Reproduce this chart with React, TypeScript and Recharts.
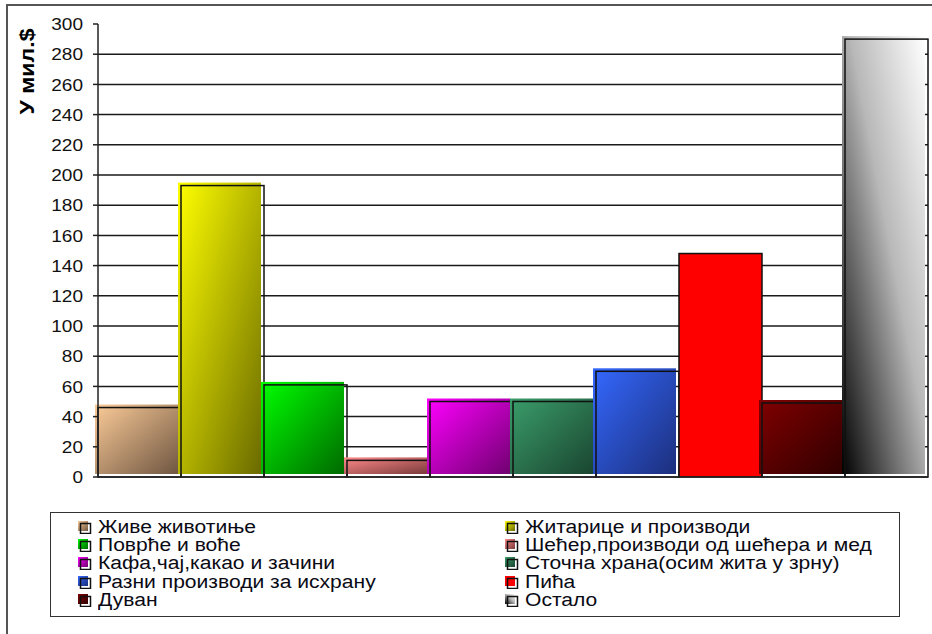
import { BarChart, Bar, XAxis, YAxis, CartesianGrid } from 'recharts';

const categories = [
  'Живе животиње',
  'Житарице и производи',
  'Поврће и воће',
  'Шећер,производи од шећера и мед',
  'Кафа,чај,какао и зачини',
  'Сточна храна(осим жита у зрну)',
  'Разни производи за исхрану',
  'Пића',
  'Дуван',
  'Остало',
];
const values = [46, 193, 61, 11, 50, 50, 70, 148, 49, 290];
const yTicks = [0, 20, 40, 60, 80, 100, 120, 140, 160, 180, 200, 220, 240, 260, 280, 300];
const gridValues = yTicks.filter((v) => v > 0 && v < 300);

// light -> dark for each bar
const gradients: Array<[string, string]> = [
  ['#fbcb98', '#6f5641'],
  ['#ffff00', '#6a6a00'],
  ['#00ff00', '#006a00'],
  ['#ff8a8a', '#7a3a3a'],
  ['#ff00ff', '#700070'],
  ['#3a9d6a', '#1a4530'],
  ['#3468ff', '#1c2f7c'],
  ['#ff0000', '#ff0000'],
  ['#800000', '#300000'],
  ['#ffffff', '#000000'],
];

const data = categories.map((name, i) => ({ name, value: values[i] }));

const font = '"Liberation Sans", Arial, sans-serif';

const BarShape = (props: any) => {
  const { x, y, width, height, index } = props;
  const off = index === 7 ? 0 : 3;
  return (
    <g>
      <rect x={x - off} y={y - off} width={width} height={height} fill={`url(#g${index})`} />
      <rect x={x} y={y} width={width} height={height} fill="none" stroke="#111" strokeWidth={1.5} />
    </g>
  );
};

const Tick = (props: any) => {
  const { x, y, payload } = props;
  return (
    <text
      transform={`translate(${x},${y}) scale(1.12,1)`}
      textAnchor="end"
      dy="0.36em"
      fontFamily={font}
      fontSize={17}
      fill="#111"
    >
      {payload.value}
    </text>
  );
};

const AxisLabel = (props: any) => {
  const { viewBox } = props;
  const cx = viewBox.x + 27;
  const cy = viewBox.y + 47.5;
  return (
    <text
      x={cx}
      y={cy}
      transform={`rotate(-90 ${cx} ${cy})`}
      textAnchor="middle"
      dominantBaseline="central"
      fontFamily={font}
      fontWeight="bold"
      fontSize={20}
      textLength={86}
      lengthAdjust="spacingAndGlyphs"
      fill="#000"
    >
      У мил.$
    </text>
  );
};

const legendOrder = [0, 1, 2, 3, 4, 5, 6, 7, 8, 9];

export default function App() {
  return (
    <div style={{ position: 'absolute', left: 0, top: 0, width: 932, height: 634, overflow: 'hidden', background: '#fff' }}>
      <div
        style={{
          position: 'absolute',
          left: 6,
          top: 4,
          width: 960,
          height: 660,
          border: '2px solid #555',
        }}
      />
      <div style={{ position: 'absolute', left: 0, top: 0 }}>
        <BarChart
          width={932}
          height={634}
          data={data}
          margin={{ top: 24, right: 4, bottom: 156, left: 0 }}
          barCategoryGap={0}
          barGap={0}
        >
          <defs>
            {gradients.map((g, i) =>
              i === 9 ? (
                <linearGradient key={i} id={`g${i}`} x1="0" y1="1" x2="1" y2="0">
                  <stop offset="0%" stopColor="#000" />
                  <stop offset="55%" stopColor="#b8b8b8" />
                  <stop offset="100%" stopColor="#fff" />
                </linearGradient>
              ) : (
                <linearGradient key={i} id={`g${i}`} x1="0" y1="0" x2="1" y2="1">
                  <stop offset="0%" stopColor={g[0]} />
                  <stop offset="100%" stopColor={g[1]} />
                </linearGradient>
              )
            )}
          </defs>
          <CartesianGrid
            vertical={false}
            horizontalValues={gridValues}
            stroke="#1a1a1a"
            strokeWidth={1.5}
          />
          <XAxis
            dataKey="name"
            height={1}
            tick={false}
            tickLine={false}
            axisLine={{ stroke: '#222', strokeWidth: 1.5 }}
          />
          <YAxis
            width={98}
            domain={[0, 300]}
            ticks={yTicks}
            interval={0}
            tickSize={5}
            tickMargin={10}
            tickLine={{ stroke: '#222', strokeWidth: 1.5 }}
            axisLine={{ stroke: '#222', strokeWidth: 1.5 }}
            tick={<Tick />}
            label={<AxisLabel />}
          />
          <Bar dataKey="value" isAnimationActive={false} shape={<BarShape />} />
        </BarChart>
      </div>

      {/* legend */}
      <div
        style={{
          position: 'absolute',
          left: 50,
          top: 512,
          width: 850,
          height: 105,
          border: '1.5px solid #333',
          boxSizing: 'border-box',
          fontFamily: font,
          fontSize: 18,
          color: '#0a0a14',
        }}
      >
        <div
          style={{
            position: 'absolute',
            left: 26,
            top: 5,
            display: 'grid',
            gridTemplateColumns: '427px 380px',
            lineHeight: '18.2px',
          }}
        >
          {legendOrder.map((i) => (
            <div key={i} style={{ display: 'flex', alignItems: 'center', whiteSpace: 'nowrap', height: 18.2 }}>
              <svg width={16} height={14} style={{ marginRight: 5, flex: 'none' }}>
                <rect x={1} y={1} width={10} height={10} fill={`url(#g${i})`} />
                <rect x={3.5} y={3.5} width={10} height={10} fill="none" stroke="#111" strokeWidth={1.5} />
              </svg>
              <span style={{ display: 'inline-block', transform: 'scaleX(1.17)', transformOrigin: 'left center' }}>
                {categories[i]}
              </span>
            </div>
          ))}
        </div>
      </div>
    </div>
  );
}
